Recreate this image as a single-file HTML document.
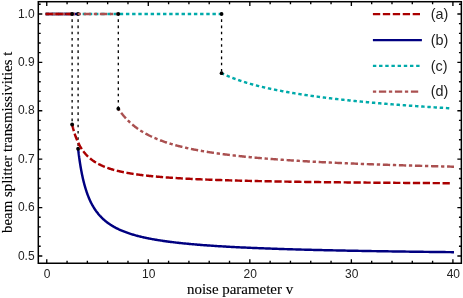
<!DOCTYPE html><html><head><meta charset="utf-8"><style>html,body{margin:0;padding:0;background:#fff}svg{display:block}text{font-family:"Liberation Sans",sans-serif;fill:#222}.s{font-family:"Liberation Serif",serif;fill:#000;stroke:#000;stroke-width:0.12px}</style></head><body>
<svg style="will-change:transform" width="463" height="298" viewBox="0 0 463 298">
<rect width="463" height="298" fill="#fff"/>
<path d="M45.60,13.95 L221.57,13.95" stroke="#00aaaa" stroke-width="2.45" fill="none" stroke-dasharray="3.4 2.78" stroke-dashoffset="0"/>
<path d="M221.57,73.21 L221.57,73.21 L221.58,73.21 L221.59,73.21 L221.60,73.22 L221.61,73.22 L221.62,73.23 L221.64,73.24 L221.66,73.25 L221.69,73.26 L221.72,73.28 L221.75,73.29 L221.78,73.31 L221.82,73.32 L221.85,73.34 L221.90,73.36 L221.94,73.38 L221.99,73.41 L222.04,73.43 L222.09,73.46 L222.15,73.48 L222.21,73.51 L222.27,73.54 L222.33,73.57 L222.40,73.61 L222.47,73.64 L222.54,73.67 L222.62,73.71 L222.70,73.75 L222.78,73.79 L222.87,73.83 L222.95,73.87 L223.04,73.91 L223.14,73.95 L223.23,74.00 L223.33,74.05 L223.44,74.09 L223.54,74.14 L223.65,74.19 L223.76,74.24 L223.87,74.30 L223.99,74.35 L224.11,74.40 L224.23,74.46 L224.36,74.52 L224.48,74.58 L224.61,74.63 L224.75,74.70 L224.89,74.76 L225.02,74.82 L225.17,74.88 L225.31,74.95 L225.46,75.01 L225.61,75.08 L225.77,75.15 L225.92,75.22 L226.08,75.29 L226.24,75.36 L226.41,75.43 L226.58,75.51 L226.75,75.58 L226.92,75.66 L227.10,75.73 L227.28,75.81 L227.46,75.89 L227.65,75.97 L227.84,76.05 L228.03,76.13 L228.22,76.21 L228.42,76.29 L228.62,76.37 L228.82,76.46 L229.03,76.54 L229.24,76.63 L229.45,76.72 L229.66,76.80 L229.88,76.89 L230.10,76.98 L230.32,77.07 L230.55,77.16 L230.78,77.25 L231.01,77.34 L231.24,77.44 L231.48,77.53 L231.72,77.62 L231.96,77.72 L232.21,77.82 L232.46,77.91 L232.71,78.01 L232.96,78.11 L233.22,78.20 L233.48,78.30 L233.74,78.40 L234.01,78.50 L234.28,78.60 L234.55,78.70 L234.82,78.80 L235.10,78.91 L235.38,79.01 L235.67,79.11 L235.95,79.21 L236.24,79.32 L236.53,79.42 L236.83,79.53 L237.13,79.63 L237.43,79.74 L237.73,79.85 L238.04,79.95 L238.34,80.06 L238.66,80.17 L238.97,80.27 L239.29,80.38 L239.61,80.49 L239.93,80.60 L240.26,80.71 L240.59,80.82 L240.92,80.93 L241.26,81.04 L241.59,81.15 L241.94,81.26 L242.28,81.37 L242.63,81.48 L242.98,81.60 L243.33,81.71 L243.68,81.82 L244.04,81.93 L244.40,82.05 L244.77,82.16 L245.13,82.27 L245.50,82.38 L245.87,82.50 L246.25,82.61 L246.63,82.73 L247.01,82.84 L247.39,82.95 L247.78,83.07 L248.17,83.18 L248.56,83.30 L248.96,83.41 L249.36,83.53 L249.76,83.64 L250.16,83.76 L250.57,83.87 L250.98,83.99 L251.39,84.10 L251.81,84.22 L252.22,84.34 L252.65,84.45 L253.07,84.57 L253.50,84.68 L253.93,84.80 L254.36,84.91 L254.80,85.03 L255.23,85.15 L255.68,85.26 L256.12,85.38 L256.57,85.49 L257.02,85.61 L257.47,85.73 L257.93,85.84 L258.38,85.96 L258.85,86.07 L259.31,86.19 L259.78,86.31 L260.25,86.42 L260.72,86.54 L261.20,86.65 L261.68,86.77 L262.16,86.88 L262.64,87.00 L263.13,87.11 L263.62,87.23 L264.11,87.35 L264.61,87.46 L265.11,87.58 L265.61,87.69 L266.12,87.81 L266.62,87.92 L267.13,88.04 L267.65,88.15 L268.16,88.27 L268.68,88.38 L269.20,88.49 L269.73,88.61 L270.26,88.72 L270.79,88.84 L271.32,88.95 L271.86,89.06 L272.40,89.18 L272.94,89.29 L273.48,89.40 L274.03,89.52 L274.58,89.63 L275.14,89.74 L275.69,89.86 L276.25,89.97 L276.81,90.08 L277.38,90.19 L277.95,90.31 L278.52,90.42 L279.09,90.53 L279.67,90.64 L280.25,90.75 L280.83,90.86 L281.42,90.97 L282.00,91.09 L282.59,91.20 L283.19,91.31 L283.78,91.42 L284.38,91.53 L284.99,91.64 L285.59,91.75 L286.20,91.86 L286.81,91.97 L287.43,92.07 L288.04,92.18 L288.66,92.29 L289.29,92.40 L289.91,92.51 L290.54,92.62 L291.17,92.72 L291.80,92.83 L292.44,92.94 L293.08,93.05 L293.72,93.15 L294.37,93.26 L295.02,93.37 L295.67,93.47 L296.32,93.58 L296.98,93.69 L297.64,93.79 L298.30,93.90 L298.97,94.00 L299.64,94.11 L300.31,94.21 L300.98,94.32 L301.66,94.42 L302.34,94.53 L303.03,94.63 L303.71,94.73 L304.40,94.84 L305.09,94.94 L305.79,95.04 L306.48,95.15 L307.18,95.25 L307.89,95.35 L308.59,95.45 L309.30,95.55 L310.01,95.66 L310.73,95.76 L311.45,95.86 L312.17,95.96 L312.89,96.06 L313.62,96.16 L314.34,96.26 L315.08,96.36 L315.81,96.46 L316.55,96.56 L317.29,96.66 L318.03,96.76 L318.78,96.86 L319.53,96.95 L320.28,97.05 L321.04,97.15 L321.79,97.25 L322.55,97.34 L323.32,97.44 L324.08,97.54 L324.85,97.64 L325.63,97.73 L326.40,97.83 L327.18,97.92 L327.96,98.02 L328.74,98.12 L329.53,98.21 L330.32,98.31 L331.11,98.40 L331.91,98.50 L332.71,98.59 L333.51,98.68 L334.31,98.78 L335.12,98.87 L335.93,98.96 L336.74,99.06 L337.55,99.15 L338.37,99.24 L339.19,99.34 L340.02,99.43 L340.84,99.52 L341.67,99.61 L342.51,99.70 L343.34,99.79 L344.18,99.88 L345.02,99.98 L345.87,100.07 L346.71,100.16 L347.56,100.25 L348.41,100.34 L349.27,100.43 L350.13,100.51 L350.99,100.60 L351.85,100.69 L352.72,100.78 L353.59,100.87 L354.46,100.96 L355.34,101.05 L356.22,101.13 L357.10,101.22 L357.98,101.31 L358.87,101.39 L359.76,101.48 L360.66,101.57 L361.55,101.65 L362.45,101.74 L363.35,101.83 L364.26,101.91 L365.16,102.00 L366.07,102.08 L366.99,102.17 L367.90,102.25 L368.82,102.34 L369.74,102.42 L370.67,102.50 L371.60,102.59 L372.53,102.67 L373.46,102.75 L374.39,102.84 L375.33,102.92 L376.28,103.00 L377.22,103.08 L378.17,103.17 L379.12,103.25 L380.07,103.33 L381.03,103.41 L381.99,103.49 L382.95,103.57 L383.91,103.65 L384.88,103.73 L385.85,103.82 L386.83,103.90 L387.80,103.98 L388.78,104.05 L389.76,104.13 L390.75,104.21 L391.74,104.29 L392.73,104.37 L393.72,104.45 L394.72,104.53 L395.72,104.61 L396.72,104.68 L397.72,104.76 L398.73,104.84 L399.74,104.92 L400.76,104.99 L401.77,105.07 L402.79,105.15 L403.82,105.22 L404.84,105.30 L405.87,105.38 L406.90,105.45 L407.93,105.53 L408.97,105.60 L410.01,105.68 L411.05,105.75 L412.10,105.83 L413.15,105.90 L414.20,105.98 L415.25,106.05 L416.31,106.13 L417.37,106.20 L418.43,106.27 L419.50,106.35 L420.57,106.42 L421.64,106.49 L422.71,106.57 L423.79,106.64 L424.87,106.71 L425.95,106.78 L427.04,106.86 L428.13,106.93 L429.22,107.00 L430.31,107.07 L431.41,107.14 L432.51,107.21 L433.61,107.28 L434.72,107.36 L435.83,107.43 L436.94,107.50 L438.05,107.57 L439.17,107.64 L440.29,107.71 L441.41,107.78 L442.54,107.84 L443.67,107.91 L444.80,107.98 L445.93,108.05 L447.07,108.12 L448.21,108.19 L449.35,108.26 L450.50,108.33" stroke="#00aaaa" stroke-width="2.45" fill="none" stroke-dasharray="3.4 2.78" stroke-dashoffset="0.6"/>
<path d="M221.57,13.95 L221.57,73.21" stroke="#000" stroke-width="1.3" stroke-dasharray="2.6 3.6" stroke-dashoffset="0.8" fill="none"/>
<circle cx="221.57" cy="13.95" r="1.9" fill="#000"/><circle cx="221.57" cy="73.21" r="1.9" fill="#000"/>
<path d="M45.60,13.95 L78.10,13.95" stroke="#000080" stroke-width="2.45" fill="none"/>
<path d="M78.10,148.77 L78.10,148.79 L78.11,148.85 L78.12,148.95 L78.14,149.10 L78.16,149.28 L78.19,149.51 L78.22,149.77 L78.25,150.07 L78.29,150.41 L78.34,150.79 L78.39,151.21 L78.44,151.66 L78.50,152.14 L78.57,152.66 L78.63,153.21 L78.71,153.80 L78.78,154.41 L78.87,155.05 L78.95,155.72 L79.05,156.41 L79.14,157.13 L79.25,157.87 L79.35,158.64 L79.46,159.42 L79.58,160.22 L79.70,161.05 L79.82,161.89 L79.95,162.74 L80.09,163.61 L80.23,164.49 L80.37,165.38 L80.52,166.28 L80.67,167.19 L80.83,168.11 L80.99,169.03 L81.16,169.96 L81.33,170.90 L81.51,171.83 L81.69,172.78 L81.88,173.72 L82.07,174.66 L82.27,175.60 L82.47,176.55 L82.67,177.49 L82.88,178.42 L83.10,179.36 L83.32,180.29 L83.54,181.21 L83.77,182.14 L84.01,183.05 L84.24,183.96 L84.49,184.87 L84.73,185.76 L84.99,186.65 L85.24,187.53 L85.51,188.41 L85.77,189.27 L86.05,190.13 L86.32,190.98 L86.60,191.82 L86.89,192.65 L87.18,193.47 L87.47,194.29 L87.77,195.09 L88.08,195.88 L88.39,196.67 L88.70,197.44 L89.02,198.21 L89.34,198.96 L89.67,199.70 L90.00,200.44 L90.34,201.16 L90.68,201.88 L91.03,202.58 L91.38,203.28 L91.74,203.96 L92.10,204.64 L92.47,205.30 L92.84,205.96 L93.21,206.61 L93.59,207.24 L93.98,207.87 L94.37,208.49 L94.76,209.10 L95.16,209.70 L95.57,210.29 L95.97,210.87 L96.39,211.44 L96.81,212.00 L97.23,212.56 L97.66,213.11 L98.09,213.64 L98.52,214.17 L98.97,214.70 L99.41,215.21 L99.86,215.72 L100.32,216.21 L100.78,216.70 L101.24,217.19 L101.71,217.66 L102.19,218.13 L102.67,218.59 L103.15,219.04 L103.64,219.49 L104.13,219.93 L104.63,220.36 L105.14,220.78 L105.64,221.20 L106.16,221.62 L106.67,222.02 L107.19,222.42 L107.72,222.81 L108.25,223.20 L108.79,223.58 L109.33,223.96 L109.87,224.33 L110.42,224.69 L110.98,225.05 L111.54,225.40 L112.10,225.75 L112.67,226.09 L113.25,226.43 L113.82,226.76 L114.41,227.09 L115.00,227.41 L115.59,227.73 L116.19,228.04 L116.79,228.35 L117.39,228.65 L118.01,228.95 L118.62,229.24 L119.24,229.53 L119.87,229.82 L120.50,230.10 L121.13,230.38 L121.77,230.65 L122.42,230.92 L123.07,231.18 L123.72,231.44 L124.38,231.70 L125.04,231.95 L125.71,232.20 L126.39,232.45 L127.06,232.69 L127.75,232.93 L128.43,233.17 L129.12,233.40 L129.82,233.63 L130.52,233.86 L131.23,234.08 L131.94,234.30 L132.65,234.52 L133.37,234.73 L134.10,234.94 L134.83,235.15 L135.56,235.35 L136.30,235.56 L137.05,235.76 L137.79,235.95 L138.55,236.15 L139.31,236.34 L140.07,236.53 L140.84,236.71 L141.61,236.90 L142.38,237.08 L143.17,237.26 L143.95,237.43 L144.74,237.61 L145.54,237.78 L146.34,237.95 L147.14,238.12 L147.95,238.28 L148.77,238.44 L149.59,238.61 L150.41,238.76 L151.24,238.92 L152.07,239.08 L152.91,239.23 L153.76,239.38 L154.60,239.53 L155.46,239.68 L156.31,239.82 L157.17,239.97 L158.04,240.11 L158.91,240.25 L159.79,240.39 L160.67,240.52 L161.55,240.66 L162.45,240.79 L163.34,240.92 L164.24,241.05 L165.14,241.18 L166.05,241.31 L166.97,241.43 L167.89,241.56 L168.81,241.68 L169.74,241.80 L170.67,241.92 L171.61,242.04 L172.55,242.15 L173.50,242.27 L174.45,242.38 L175.40,242.49 L176.36,242.61 L177.33,242.72 L178.30,242.82 L179.28,242.93 L180.26,243.04 L181.24,243.14 L182.23,243.25 L183.22,243.35 L184.22,243.45 L185.23,243.55 L186.23,243.65 L187.25,243.75 L188.26,243.84 L189.29,243.94 L190.31,244.04 L191.35,244.13 L192.38,244.22 L193.42,244.31 L194.47,244.40 L195.52,244.49 L196.58,244.58 L197.64,244.67 L198.70,244.76 L199.77,244.84 L200.84,244.93 L201.92,245.01 L203.01,245.10 L204.10,245.18 L205.19,245.26 L206.29,245.34 L207.39,245.42 L208.50,245.50 L209.61,245.58 L210.73,245.65 L211.85,245.73 L212.97,245.81 L214.10,245.88 L215.24,245.96 L216.38,246.03 L217.53,246.10 L218.68,246.17 L219.83,246.25 L220.99,246.32 L222.15,246.39 L223.32,246.45 L224.50,246.52 L225.67,246.59 L226.86,246.66 L228.04,246.72 L229.24,246.79 L230.43,246.85 L231.64,246.92 L232.84,246.98 L234.05,247.05 L235.27,247.11 L236.49,247.17 L237.72,247.23 L238.95,247.29 L240.18,247.35 L241.42,247.41 L242.67,247.47 L243.91,247.53 L245.17,247.59 L246.43,247.65 L247.69,247.70 L248.96,247.76 L250.23,247.81 L251.51,247.87 L252.79,247.92 L254.08,247.98 L255.37,248.03 L256.66,248.09 L257.97,248.14 L259.27,248.19 L260.58,248.24 L261.90,248.29 L263.22,248.34 L264.54,248.39 L265.87,248.44 L267.20,248.49 L268.54,248.54 L269.89,248.59 L271.24,248.64 L272.59,248.69 L273.95,248.73 L275.31,248.78 L276.68,248.83 L278.05,248.87 L279.42,248.92 L280.80,248.97 L282.19,249.01 L283.58,249.05 L284.98,249.10 L286.38,249.14 L287.78,249.19 L289.19,249.23 L290.61,249.27 L292.03,249.31 L293.45,249.36 L294.88,249.40 L296.31,249.44 L297.75,249.48 L299.19,249.52 L300.64,249.56 L302.09,249.60 L303.55,249.64 L305.01,249.68 L306.48,249.72 L307.95,249.76 L309.42,249.79 L310.90,249.83 L312.39,249.87 L313.88,249.91 L315.37,249.94 L316.87,249.98 L318.38,250.02 L319.88,250.05 L321.40,250.09 L322.92,250.12 L324.44,250.16 L325.97,250.19 L327.50,250.23 L329.04,250.26 L330.58,250.30 L332.12,250.33 L333.68,250.37 L335.23,250.40 L336.79,250.43 L338.36,250.46 L339.93,250.50 L341.50,250.53 L343.08,250.56 L344.67,250.59 L346.26,250.62 L347.85,250.66 L349.45,250.69 L351.05,250.72 L352.66,250.75 L354.27,250.78 L355.89,250.81 L357.51,250.84 L359.14,250.87 L360.77,250.90 L362.41,250.93 L364.05,250.96 L365.69,250.98 L367.34,251.01 L369.00,251.04 L370.66,251.07 L372.32,251.10 L373.99,251.13 L375.67,251.15 L377.35,251.18 L379.03,251.21 L380.72,251.23 L382.41,251.26 L384.11,251.29 L385.81,251.31 L387.52,251.34 L389.23,251.37 L390.95,251.39 L392.67,251.42 L394.39,251.44 L396.12,251.47 L397.86,251.49 L399.60,251.52 L401.34,251.54 L403.09,251.57 L404.85,251.59 L406.61,251.62 L408.37,251.64 L410.14,251.66 L411.91,251.69 L413.69,251.71 L415.47,251.73 L417.26,251.76 L419.05,251.78 L420.85,251.80 L422.65,251.83 L424.46,251.85 L426.27,251.87 L428.08,251.89 L429.90,251.91 L431.73,251.94 L433.56,251.96 L435.39,251.98 L437.23,252.00 L439.08,252.02 L440.93,252.04 L442.78,252.07 L444.64,252.09 L446.50,252.11 L448.37,252.13 L450.24,252.15 L452.12,252.17 L454.00,252.19" stroke="#000080" stroke-width="2.45" fill="none"/>
<path d="M78.10,13.95 L78.10,148.77" stroke="#000" stroke-width="1.3" stroke-dasharray="2.6 3.6" stroke-dashoffset="0.8" fill="none"/>
<circle cx="78.10" cy="13.95" r="1.9" fill="#000"/><circle cx="78.10" cy="148.77" r="1.9" fill="#000"/>
<path d="M45.60,13.95 L118.30,13.95" stroke="#aa5050" stroke-width="2.45" fill="none" stroke-dasharray="3.3 2.72 7.3 2.74" stroke-dashoffset="0"/>
<path d="M118.30,108.76 L118.30,108.76 L118.30,108.77 L118.31,108.79 L118.33,108.81 L118.35,108.84 L118.37,108.87 L118.40,108.91 L118.43,108.96 L118.47,109.01 L118.51,109.07 L118.55,109.13 L118.60,109.20 L118.65,109.28 L118.71,109.36 L118.77,109.45 L118.84,109.55 L118.91,109.65 L118.98,109.75 L119.06,109.86 L119.14,109.98 L119.23,110.10 L119.32,110.23 L119.41,110.37 L119.51,110.50 L119.61,110.65 L119.72,110.80 L119.83,110.95 L119.95,111.11 L120.07,111.28 L120.19,111.45 L120.32,111.62 L120.46,111.80 L120.59,111.99 L120.73,112.17 L120.88,112.37 L121.03,112.57 L121.18,112.77 L121.34,112.97 L121.50,113.18 L121.67,113.40 L121.84,113.62 L122.02,113.84 L122.19,114.06 L122.38,114.29 L122.57,114.52 L122.76,114.76 L122.95,115.00 L123.15,115.24 L123.36,115.49 L123.57,115.73 L123.78,115.99 L124.00,116.24 L124.22,116.50 L124.44,116.76 L124.67,117.02 L124.91,117.28 L125.15,117.55 L125.39,117.82 L125.64,118.09 L125.89,118.36 L126.14,118.63 L126.40,118.91 L126.67,119.18 L126.93,119.46 L127.21,119.74 L127.48,120.03 L127.76,120.31 L128.05,120.59 L128.34,120.88 L128.63,121.16 L128.93,121.45 L129.23,121.74 L129.53,122.03 L129.84,122.32 L130.16,122.61 L130.48,122.90 L130.80,123.19 L131.13,123.48 L131.46,123.77 L131.79,124.06 L132.13,124.35 L132.47,124.64 L132.82,124.93 L133.17,125.23 L133.53,125.52 L133.89,125.81 L134.26,126.10 L134.63,126.39 L135.00,126.68 L135.38,126.97 L135.76,127.26 L136.14,127.55 L136.53,127.83 L136.93,128.12 L137.33,128.41 L137.73,128.69 L138.14,128.98 L138.55,129.26 L138.96,129.54 L139.38,129.83 L139.81,130.11 L140.23,130.39 L140.67,130.67 L141.10,130.94 L141.54,131.22 L141.99,131.50 L142.44,131.77 L142.89,132.05 L143.35,132.32 L143.81,132.59 L144.28,132.86 L144.75,133.13 L145.22,133.40 L145.70,133.66 L146.18,133.93 L146.67,134.19 L147.16,134.45 L147.66,134.71 L148.16,134.97 L148.66,135.23 L149.17,135.49 L149.68,135.74 L150.20,135.99 L150.72,136.25 L151.24,136.50 L151.77,136.74 L152.31,136.99 L152.84,137.24 L153.39,137.48 L153.93,137.73 L154.48,137.97 L155.04,138.21 L155.60,138.45 L156.16,138.68 L156.73,138.92 L157.30,139.15 L157.87,139.38 L158.45,139.61 L159.04,139.84 L159.63,140.07 L160.22,140.30 L160.82,140.52 L161.42,140.74 L162.02,140.97 L162.63,141.19 L163.24,141.40 L163.86,141.62 L164.48,141.84 L165.11,142.05 L165.74,142.26 L166.38,142.47 L167.01,142.68 L167.66,142.89 L168.31,143.10 L168.96,143.30 L169.61,143.51 L170.27,143.71 L170.94,143.91 L171.61,144.11 L172.28,144.30 L172.95,144.50 L173.64,144.69 L174.32,144.89 L175.01,145.08 L175.70,145.27 L176.40,145.46 L177.10,145.65 L177.81,145.83 L178.52,146.02 L179.24,146.20 L179.96,146.38 L180.68,146.56 L181.41,146.74 L182.14,146.92 L182.87,147.10 L183.61,147.27 L184.36,147.45 L185.11,147.62 L185.86,147.79 L186.62,147.96 L187.38,148.13 L188.14,148.30 L188.91,148.46 L189.69,148.63 L190.47,148.79 L191.25,148.95 L192.03,149.11 L192.83,149.27 L193.62,149.43 L194.42,149.59 L195.22,149.75 L196.03,149.90 L196.84,150.06 L197.66,150.21 L198.48,150.36 L199.30,150.51 L200.13,150.66 L200.96,150.81 L201.80,150.96 L202.64,151.10 L203.49,151.25 L204.34,151.39 L205.19,151.53 L206.05,151.67 L206.91,151.81 L207.78,151.95 L208.65,152.09 L209.53,152.23 L210.41,152.37 L211.29,152.50 L212.18,152.64 L213.07,152.77 L213.96,152.90 L214.87,153.03 L215.77,153.16 L216.68,153.29 L217.59,153.42 L218.51,153.55 L219.43,153.68 L220.36,153.80 L221.29,153.93 L222.22,154.05 L223.16,154.17 L224.10,154.29 L225.05,154.41 L226.00,154.53 L226.95,154.65 L227.91,154.77 L228.88,154.89 L229.85,155.01 L230.82,155.12 L231.79,155.24 L232.77,155.35 L233.76,155.46 L234.75,155.58 L235.74,155.69 L236.74,155.80 L237.74,155.91 L238.75,156.02 L239.76,156.13 L240.77,156.23 L241.79,156.34 L242.81,156.45 L243.84,156.55 L244.87,156.66 L245.90,156.76 L246.94,156.86 L247.99,156.96 L249.04,157.07 L250.09,157.17 L251.14,157.27 L252.21,157.37 L253.27,157.46 L254.34,157.56 L255.41,157.66 L256.49,157.76 L257.57,157.85 L258.66,157.95 L259.75,158.04 L260.84,158.14 L261.94,158.23 L263.04,158.32 L264.15,158.41 L265.26,158.50 L266.38,158.60 L267.50,158.69 L268.62,158.77 L269.75,158.86 L270.88,158.95 L272.02,159.04 L273.16,159.13 L274.30,159.21 L275.45,159.30 L276.61,159.38 L277.76,159.47 L278.93,159.55 L280.09,159.64 L281.26,159.72 L282.44,159.80 L283.62,159.88 L284.80,159.96 L285.99,160.04 L287.18,160.12 L288.37,160.20 L289.57,160.28 L290.78,160.36 L291.99,160.44 L293.20,160.52 L294.42,160.59 L295.64,160.67 L296.86,160.75 L298.09,160.82 L299.32,160.90 L300.56,160.97 L301.80,161.04 L303.05,161.12 L304.30,161.19 L305.56,161.26 L306.81,161.34 L308.08,161.41 L309.34,161.48 L310.62,161.55 L311.89,161.62 L313.17,161.69 L314.46,161.76 L315.74,161.83 L317.04,161.90 L318.33,161.96 L319.63,162.03 L320.94,162.10 L322.25,162.16 L323.56,162.23 L324.88,162.30 L326.20,162.36 L327.53,162.43 L328.86,162.49 L330.20,162.56 L331.53,162.62 L332.88,162.68 L334.22,162.75 L335.58,162.81 L336.93,162.87 L338.29,162.93 L339.66,162.99 L341.03,163.05 L342.40,163.12 L343.78,163.18 L345.16,163.24 L346.54,163.29 L347.93,163.35 L349.33,163.41 L350.72,163.47 L352.13,163.53 L353.53,163.59 L354.94,163.64 L356.36,163.70 L357.78,163.76 L359.20,163.81 L360.63,163.87 L362.06,163.93 L363.50,163.98 L364.94,164.04 L366.38,164.09 L367.83,164.15 L369.28,164.20 L370.74,164.25 L372.20,164.31 L373.67,164.36 L375.14,164.41 L376.61,164.47 L378.09,164.52 L379.57,164.57 L381.06,164.62 L382.55,164.67 L384.04,164.72 L385.54,164.77 L387.05,164.82 L388.55,164.87 L390.06,164.92 L391.58,164.97 L393.10,165.02 L394.63,165.07 L396.15,165.12 L397.69,165.17 L399.22,165.22 L400.77,165.26 L402.31,165.31 L403.86,165.36 L405.42,165.41 L406.97,165.45 L408.54,165.50 L410.10,165.55 L411.67,165.59 L413.25,165.64 L414.83,165.68 L416.41,165.73 L418.00,165.77 L419.59,165.82 L421.19,165.86 L422.79,165.91 L424.39,165.95 L426.00,165.99 L427.62,166.04 L429.23,166.08 L430.86,166.12 L432.48,166.17 L434.11,166.21 L435.75,166.25 L437.38,166.29 L439.03,166.33 L440.67,166.38 L442.32,166.42 L443.98,166.46 L445.64,166.50 L447.30,166.54 L448.97,166.58 L450.64,166.62 L452.32,166.66 L454.00,166.70" stroke="#aa5050" stroke-width="2.45" fill="none" stroke-dasharray="3.3 2.72 7.3 2.74" stroke-dashoffset="1.0"/>
<path d="M118.30,13.95 L118.30,108.76" stroke="#000" stroke-width="1.3" stroke-dasharray="2.6 3.6" stroke-dashoffset="0.8" fill="none"/>
<circle cx="118.30" cy="13.95" r="1.9" fill="#000"/><circle cx="118.30" cy="108.76" r="1.9" fill="#000"/>
<path d="M45.60,13.95 L72.13,13.95" stroke="#aa0000" stroke-width="2.45" fill="none" stroke-dasharray="7.27 2.62" stroke-dashoffset="0"/>
<path d="M72.13,124.48 L72.13,124.49 L72.14,124.52 L72.15,124.57 L72.16,124.64 L72.19,124.73 L72.21,124.84 L72.24,124.97 L72.28,125.12 L72.32,125.29 L72.36,125.47 L72.41,125.68 L72.47,125.90 L72.53,126.14 L72.59,126.40 L72.66,126.67 L72.74,126.97 L72.81,127.27 L72.90,127.59 L72.99,127.93 L73.08,128.28 L73.18,128.64 L73.28,129.02 L73.39,129.40 L73.50,129.80 L73.61,130.21 L73.73,130.64 L73.86,131.07 L73.99,131.51 L74.13,131.95 L74.27,132.41 L74.41,132.87 L74.56,133.35 L74.72,133.82 L74.88,134.30 L75.04,134.79 L75.21,135.28 L75.38,135.78 L75.56,136.28 L75.75,136.78 L75.93,137.29 L76.13,137.79 L76.32,138.30 L76.53,138.81 L76.73,139.32 L76.95,139.83 L77.16,140.35 L77.38,140.86 L77.61,141.36 L77.84,141.87 L78.08,142.38 L78.32,142.89 L78.56,143.39 L78.81,143.89 L79.07,144.39 L79.33,144.88 L79.59,145.38 L79.86,145.86 L80.13,146.35 L80.41,146.83 L80.69,147.31 L80.98,147.79 L81.27,148.26 L81.57,148.72 L81.87,149.18 L82.18,149.64 L82.49,150.09 L82.81,150.54 L83.13,150.99 L83.46,151.42 L83.79,151.86 L84.12,152.29 L84.46,152.71 L84.81,153.13 L85.16,153.54 L85.51,153.95 L85.87,154.36 L86.24,154.75 L86.61,155.15 L86.98,155.54 L87.36,155.92 L87.74,156.30 L88.13,156.67 L88.52,157.04 L88.92,157.40 L89.32,157.76 L89.73,158.12 L90.14,158.46 L90.56,158.81 L90.98,159.15 L91.40,159.48 L91.83,159.81 L92.27,160.13 L92.71,160.45 L93.15,160.77 L93.60,161.08 L94.06,161.39 L94.52,161.69 L94.98,161.98 L95.45,162.28 L95.92,162.57 L96.40,162.85 L96.89,163.13 L97.37,163.40 L97.87,163.68 L98.36,163.94 L98.87,164.21 L99.37,164.47 L99.88,164.72 L100.40,164.97 L100.92,165.22 L101.45,165.46 L101.98,165.71 L102.51,165.94 L103.05,166.18 L103.60,166.40 L104.15,166.63 L104.70,166.85 L105.26,167.07 L105.83,167.29 L106.40,167.50 L106.97,167.71 L107.55,167.92 L108.13,168.12 L108.72,168.32 L109.31,168.52 L109.91,168.71 L110.51,168.90 L111.12,169.09 L111.73,169.28 L112.35,169.46 L112.97,169.64 L113.59,169.82 L114.22,169.99 L114.86,170.17 L115.50,170.34 L116.14,170.50 L116.79,170.67 L117.45,170.83 L118.11,170.99 L118.77,171.15 L119.44,171.30 L120.11,171.46 L120.79,171.61 L121.47,171.76 L122.16,171.90 L122.85,172.05 L123.55,172.19 L124.25,172.33 L124.96,172.47 L125.67,172.60 L126.39,172.74 L127.11,172.87 L127.84,173.00 L128.57,173.13 L129.30,173.26 L130.04,173.38 L130.79,173.50 L131.54,173.62 L132.29,173.74 L133.05,173.86 L133.81,173.98 L134.58,174.09 L135.36,174.21 L136.13,174.32 L136.92,174.43 L137.71,174.54 L138.50,174.64 L139.29,174.75 L140.10,174.85 L140.90,174.96 L141.72,175.06 L142.53,175.16 L143.35,175.26 L144.18,175.36 L145.01,175.45 L145.84,175.55 L146.68,175.64 L147.53,175.73 L148.38,175.82 L149.23,175.91 L150.09,176.00 L150.96,176.09 L151.82,176.18 L152.70,176.26 L153.58,176.34 L154.46,176.43 L155.35,176.51 L156.24,176.59 L157.14,176.67 L158.04,176.75 L158.95,176.83 L159.86,176.90 L160.77,176.98 L161.69,177.06 L162.62,177.13 L163.55,177.20 L164.49,177.27 L165.43,177.35 L166.37,177.42 L167.32,177.49 L168.27,177.55 L169.23,177.62 L170.20,177.69 L171.17,177.76 L172.14,177.82 L173.12,177.89 L174.10,177.95 L175.09,178.01 L176.08,178.07 L177.08,178.14 L178.08,178.20 L179.09,178.26 L180.10,178.32 L181.11,178.37 L182.13,178.43 L183.16,178.49 L184.19,178.55 L185.23,178.60 L186.27,178.66 L187.31,178.71 L188.36,178.77 L189.41,178.82 L190.47,178.87 L191.54,178.92 L192.61,178.98 L193.68,179.03 L194.76,179.08 L195.84,179.13 L196.93,179.18 L198.02,179.23 L199.12,179.27 L200.22,179.32 L201.33,179.37 L202.44,179.42 L203.55,179.46 L204.67,179.51 L205.80,179.55 L206.93,179.60 L208.07,179.64 L209.21,179.68 L210.35,179.73 L211.50,179.77 L212.65,179.81 L213.81,179.85 L214.98,179.89 L216.14,179.94 L217.32,179.98 L218.50,180.02 L219.68,180.06 L220.87,180.09 L222.06,180.13 L223.26,180.17 L224.46,180.21 L225.66,180.25 L226.88,180.28 L228.09,180.32 L229.31,180.36 L230.54,180.39 L231.77,180.43 L233.00,180.46 L234.24,180.50 L235.49,180.53 L236.74,180.57 L237.99,180.60 L239.25,180.63 L240.51,180.67 L241.78,180.70 L243.06,180.73 L244.33,180.76 L245.62,180.80 L246.90,180.83 L248.20,180.86 L249.49,180.89 L250.80,180.92 L252.10,180.95 L253.41,180.98 L254.73,181.01 L256.05,181.04 L257.38,181.07 L258.71,181.10 L260.04,181.13 L261.38,181.15 L262.73,181.18 L264.07,181.21 L265.43,181.24 L266.79,181.26 L268.15,181.29 L269.52,181.32 L270.89,181.34 L272.27,181.37 L273.65,181.40 L275.04,181.42 L276.43,181.45 L277.83,181.47 L279.23,181.50 L280.64,181.52 L282.05,181.55 L283.47,181.57 L284.89,181.60 L286.31,181.62 L287.74,181.64 L289.18,181.67 L290.62,181.69 L292.06,181.71 L293.51,181.74 L294.97,181.76 L296.42,181.78 L297.89,181.80 L299.36,181.82 L300.83,181.85 L302.31,181.87 L303.79,181.89 L305.28,181.91 L306.77,181.93 L308.27,181.95 L309.77,181.97 L311.27,181.99 L312.79,182.01 L314.30,182.03 L315.82,182.05 L317.35,182.07 L318.88,182.09 L320.41,182.11 L321.95,182.13 L323.50,182.15 L325.05,182.17 L326.60,182.19 L328.16,182.21 L329.72,182.23 L331.29,182.24 L332.86,182.26 L334.44,182.28 L336.02,182.30 L337.61,182.32 L339.20,182.33 L340.80,182.35 L342.40,182.37 L344.01,182.38 L345.62,182.40 L347.24,182.42 L348.86,182.44 L350.48,182.45 L352.11,182.47 L353.75,182.48 L355.39,182.50 L357.03,182.52 L358.68,182.53 L360.34,182.55 L361.99,182.56 L363.66,182.58 L365.33,182.59 L367.00,182.61 L368.68,182.63 L370.36,182.64 L372.05,182.66 L373.74,182.67 L375.44,182.68 L377.14,182.70 L378.84,182.71 L380.55,182.73 L382.27,182.74 L383.99,182.76 L385.72,182.77 L387.45,182.78 L389.18,182.80 L390.92,182.81 L392.67,182.82 L394.41,182.84 L396.17,182.85 L397.93,182.86 L399.69,182.88 L401.46,182.89 L403.23,182.90 L405.01,182.92 L406.79,182.93 L408.58,182.94 L410.37,182.95 L412.17,182.97 L413.97,182.98 L415.78,182.99 L417.59,183.00 L419.40,183.02 L421.22,183.03 L423.05,183.04 L424.88,183.05 L426.71,183.06 L428.55,183.08 L430.40,183.09 L432.25,183.10 L434.10,183.11 L435.96,183.12 L437.82,183.13 L439.69,183.14 L441.56,183.15 L443.44,183.17 L445.32,183.18 L447.21,183.19 L449.10,183.20 L451.00,183.21" stroke="#aa0000" stroke-width="2.45" fill="none" stroke-dasharray="7.27 2.62" stroke-dashoffset="0.5"/>
<path d="M72.13,13.95 L72.13,124.48" stroke="#000" stroke-width="1.3" stroke-dasharray="2.6 3.6" stroke-dashoffset="0.8" fill="none"/>
<circle cx="72.13" cy="13.95" r="1.9" fill="#000"/><circle cx="72.13" cy="124.48" r="1.9" fill="#000"/>
<rect x="38.3" y="1.7" width="423.05" height="261.55" fill="none" stroke="#000" stroke-width="1.5"/>
<path d="M46.75,263.25 v-4.0 M46.75,1.7 v4.25 M67.06,263.25 v-2.4 M67.06,1.7 v2.65 M87.37,263.25 v-2.4 M87.37,1.7 v2.65 M107.67,263.25 v-2.4 M107.67,1.7 v2.65 M127.98,263.25 v-2.4 M127.98,1.7 v2.65 M148.29,263.25 v-4.0 M148.29,1.7 v4.25 M168.60,263.25 v-2.4 M168.60,1.7 v2.65 M188.91,263.25 v-2.4 M188.91,1.7 v2.65 M209.21,263.25 v-2.4 M209.21,1.7 v2.65 M229.52,263.25 v-2.4 M229.52,1.7 v2.65 M249.83,263.25 v-4.0 M249.83,1.7 v4.25 M270.14,263.25 v-2.4 M270.14,1.7 v2.65 M290.45,263.25 v-2.4 M290.45,1.7 v2.65 M310.75,263.25 v-2.4 M310.75,1.7 v2.65 M331.06,263.25 v-2.4 M331.06,1.7 v2.65 M351.37,263.25 v-4.0 M351.37,1.7 v4.25 M371.68,263.25 v-2.4 M371.68,1.7 v2.65 M391.99,263.25 v-2.4 M391.99,1.7 v2.65 M412.29,263.25 v-2.4 M412.29,1.7 v2.65 M432.60,263.25 v-2.4 M432.60,1.7 v2.65 M452.91,263.25 v-4.0 M452.91,1.7 v4.25 M38.3,255.95 h4 M461.35,255.95 h-4 M38.3,246.27 h2.4 M461.35,246.27 h-2.4 M38.3,236.59 h2.4 M461.35,236.59 h-2.4 M38.3,226.91 h2.4 M461.35,226.91 h-2.4 M38.3,217.23 h2.4 M461.35,217.23 h-2.4 M38.3,207.55 h4 M461.35,207.55 h-4 M38.3,197.87 h2.4 M461.35,197.87 h-2.4 M38.3,188.19 h2.4 M461.35,188.19 h-2.4 M38.3,178.51 h2.4 M461.35,178.51 h-2.4 M38.3,168.83 h2.4 M461.35,168.83 h-2.4 M38.3,159.15 h4 M461.35,159.15 h-4 M38.3,149.47 h2.4 M461.35,149.47 h-2.4 M38.3,139.79 h2.4 M461.35,139.79 h-2.4 M38.3,130.11 h2.4 M461.35,130.11 h-2.4 M38.3,120.43 h2.4 M461.35,120.43 h-2.4 M38.3,110.75 h4 M461.35,110.75 h-4 M38.3,101.07 h2.4 M461.35,101.07 h-2.4 M38.3,91.39 h2.4 M461.35,91.39 h-2.4 M38.3,81.71 h2.4 M461.35,81.71 h-2.4 M38.3,72.03 h2.4 M461.35,72.03 h-2.4 M38.3,62.35 h4 M461.35,62.35 h-4 M38.3,52.67 h2.4 M461.35,52.67 h-2.4 M38.3,42.99 h2.4 M461.35,42.99 h-2.4 M38.3,33.31 h2.4 M461.35,33.31 h-2.4 M38.3,23.63 h2.4 M461.35,23.63 h-2.4 M38.3,13.95 h4 M461.35,13.95 h-4 M38.3,4.27 h2.4 M461.35,4.27 h-2.4" stroke="#000" stroke-width="1.35" fill="none"/>
<text x="47.15" y="278.3" font-size="12" text-anchor="middle">0</text>
<text x="148.69" y="278.3" font-size="12" text-anchor="middle">10</text>
<text x="250.23" y="278.3" font-size="12" text-anchor="middle">20</text>
<text x="351.77" y="278.3" font-size="12" text-anchor="middle">30</text>
<text x="453.31" y="278.3" font-size="12" text-anchor="middle">40</text>
<text x="34.6" y="259.85" font-size="12" text-anchor="end">0.5</text>
<text x="34.6" y="211.25" font-size="12" text-anchor="end">0.6</text>
<text x="34.6" y="162.55" font-size="12" text-anchor="end">0.7</text>
<text x="34.6" y="113.8" font-size="12" text-anchor="end">0.8</text>
<text x="34.6" y="66.0" font-size="12" text-anchor="end">0.9</text>
<text x="34.6" y="17.5" font-size="12" text-anchor="end">1.0</text>
<text class="s" x="187" y="293.8" font-size="14.95">noise parameter v</text>
<text class="s" transform="translate(12.3,233) rotate(-90)" font-size="14.88">beam splitter transmissivities t</text>
<path d="M372.9,14.15 L420.5,14.15" stroke="#aa0000" stroke-width="2.25" fill="none" stroke-dasharray="7.3 2.65"/>
<text x="430.8" y="18.9" font-size="14.4">(a)</text>
<path d="M372.9,40.0 L421.9,40.0" stroke="#000080" stroke-width="2.25" fill="none"/>
<text x="430.8" y="44.7" font-size="14.4">(b)</text>
<path d="M372.9,65.85 L420.5,65.85" stroke="#00aaaa" stroke-width="2.25" fill="none" stroke-dasharray="3.4 2.78"/>
<text x="430.8" y="70.7" font-size="14.4">(c)</text>
<path d="M372.9,91.6 L419.5,91.6" stroke="#aa5050" stroke-width="2.25" fill="none" stroke-dasharray="3.3 2.7 7.3 2.7"/>
<text x="430.8" y="96.4" font-size="14.4">(d)</text>
</svg></body></html>
